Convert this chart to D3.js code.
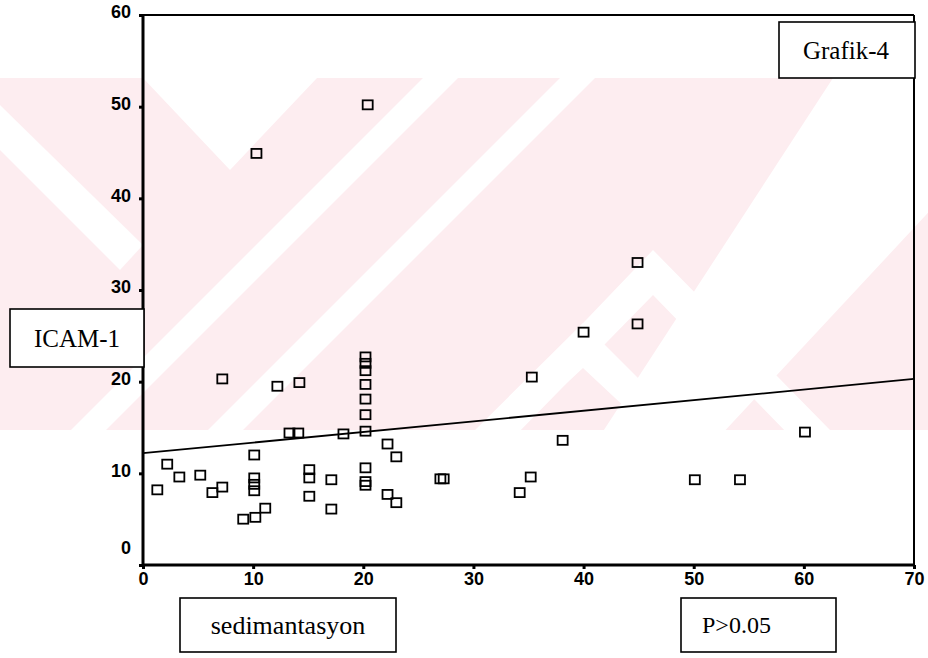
<!DOCTYPE html>
<html><head><meta charset="utf-8">
<script src="https://cdn.jsdelivr.net/npm/d3@7"></script>
<style>html,body{margin:0;padding:0;background:#fff;} svg{display:block}</style>
</head><body>
<script>
// ---- data ----
const sedimantasyon = [1.3, 2.2, 3.3, 5.2, 6.3, 7.2, 9.1, 10.2, 11.1, 10.1, 10.1, 10.1, 10.1,
  13.3, 14.1, 15.1, 15.1, 15.1, 17.1, 17.1, 18.2,
  20.2, 20.2, 20.2, 20.2, 20.2, 20.2, 20.2, 20.2, 20.2, 20.2,
  22.2, 23.0, 22.2, 23.0, 27.0, 27.3, 35.2, 34.2, 38.1, 50.1, 54.2, 60.1,
  44.9, 44.9, 40.0, 35.3, 7.2, 12.2, 14.2, 10.3, 20.4];
const icam1 = [8.2, 11.0, 9.6, 9.8, 7.9, 8.5, 5.0, 5.2, 6.2, 12.0, 9.5, 8.8, 8.1,
  14.4, 14.4, 10.4, 9.5, 7.5, 9.3, 6.1, 14.3,
  22.7, 22.0, 21.2, 19.7, 18.1, 16.4, 14.6, 10.6, 9.1, 8.7,
  13.2, 11.8, 7.7, 6.8, 9.4, 9.4, 9.6, 7.9, 13.6, 9.3, 9.3, 14.5,
  33.0, 26.3, 25.4, 20.5, 20.3, 19.5, 19.9, 44.9, 50.2];
const fitX = [0, 70];
const fitY = [12.2, 20.3];
const xTicks = [0, 10, 20, 30, 40, 50, 60, 70];
const yTicks = [0, 10, 20, 30, 40, 50, 60];
const titleText = "Grafik-4";
const yLabelText = "ICAM-1";
const xLabelText = "sedimantasyon";
const pText = "P>0.05";

const W = 928, H = 658;
const svg = d3.select("body").append("svg").attr("width", W).attr("height", H)
  .style("background", "#fff");

// ---- background watermark (decoration) ----
const pink = "#fdedf0";
const wm = svg.append("g");
wm.append("clipPath").attr("id", "wmclip").append("rect")
  .attr("x", 0).attr("y", 78).attr("width", W).attr("height", 352);
const wg = wm.append("g").attr("clip-path", "url(#wmclip)");
wg.append("rect").attr("x", 0).attr("y", 78).attr("width", W).attr("height", 352).attr("fill", pink);
const whiteShapes = [
  [[143,78],[317,78],[230,170]],
  [[0,105],[0,150],[120,270],[143,245]],
  [[423,78],[458,78],[100,436],[65,436]],
  [[560,78],[595,78],[237,436],[202,436]],
  [[833,78],[940,78],[940,200],[720,436],[600,436]],
  [[653,250],[830,430],[790,436],[653,295],[515,436],[475,436]],
  [[583,323],[700,440],[660,440],[583,368],[505,440],[465,440]]
];
wg.selectAll("polygon.w").data(whiteShapes).enter().append("polygon")
  .attr("points", d => d.map(p => p.join(",")).join(" "))
  .attr("fill", "#fff");

// ---- scales ----
const x = d3.scaleLinear().domain([0, 70]).range([143, 914]);
const y = d3.scaleLinear().domain([0, 60]).range([565, 15]);

// ---- frame ----
const frame = svg.append("g").attr("stroke", "#000").attr("fill", "none");
frame.append("line").attr("x1", x(0)).attr("x2", x(70)).attr("y1", y(60)).attr("y2", y(60)).attr("stroke-width", 2);
frame.append("line").attr("x1", x(70)).attr("x2", x(70)).attr("y1", y(60)).attr("y2", y(0)).attr("stroke-width", 2);
frame.append("line").attr("x1", x(0)).attr("x2", x(70)).attr("y1", y(0)).attr("y2", y(0)).attr("stroke-width", 3);
frame.append("line").attr("x1", x(0)).attr("x2", x(0)).attr("y1", y(60)).attr("y2", y(0)).attr("stroke-width", 3);

// ---- axes ----
const tickFont = "'Liberation Sans', Arial, sans-serif";
const yAxis = svg.append("g").attr("transform", `translate(${x(0)},0)`)
  .call(d3.axisLeft(y).tickValues(yTicks).tickSize(4).tickPadding(8));
yAxis.select(".domain").remove();
yAxis.selectAll(".tick line").attr("stroke", "#000").attr("stroke-width", 3);
yAxis.selectAll(".tick text").attr("font-family", tickFont).attr("font-weight", "bold")
  .attr("font-size", 18).attr("fill", "#000")
  .attr("y", d => d === 0 ? -17 : -3);

const xAxis = svg.append("g").attr("transform", `translate(0,${y(0)})`)
  .call(d3.axisBottom(x).tickValues(xTicks).tickSize(4).tickPadding(3));
xAxis.select(".domain").remove();
xAxis.selectAll(".tick line").attr("stroke", "#000").attr("stroke-width", 3);
xAxis.selectAll(".tick text").attr("font-family", tickFont).attr("font-weight", "bold")
  .attr("font-size", 18).attr("fill", "#000");

// ---- fit line ----
svg.append("line")
  .attr("x1", x(fitX[0])).attr("y1", y(fitY[0]))
  .attr("x2", x(fitX[1])).attr("y2", y(fitY[1]))
  .attr("stroke", "#000").attr("stroke-width", 1.8);

// ---- points ----
const pts = sedimantasyon.map((v, i) => ({x: v, y: icam1[i]}));
svg.append("g").selectAll("rect").data(pts).enter().append("rect")
  .attr("x", d => x(d.x) - 5).attr("y", d => y(d.y) - 4.5)
  .attr("width", 10).attr("height", 9)
  .attr("fill", "none").attr("stroke", "#000").attr("stroke-width", 1.8);

// ---- text boxes ----
const serif = "'Liberation Serif', 'Times New Roman', serif";
function box(x0, y0, x1, y1, txt, tx, anchor, fs) {
  svg.append("rect").attr("x", x0).attr("y", y0).attr("width", x1 - x0).attr("height", y1 - y0)
    .attr("fill", "#fff").attr("stroke", "#000").attr("stroke-width", 1.6);
  svg.append("text").attr("x", tx).attr("y", (y0 + y1) / 2).attr("dy", "0.35em")
    .attr("text-anchor", anchor).attr("font-family", serif).attr("font-size", fs)
    .attr("fill", "#000").text(txt);
}
box(779, 22, 915, 78, titleText, 846, "middle", 25);
box(10, 309, 144, 367, yLabelText, 77, "middle", 25);
box(180, 598, 396, 652, xLabelText, 288, "middle", 26);
box(681, 598, 836, 652, pText, 702, "start", 24);
</script>
</body></html>
